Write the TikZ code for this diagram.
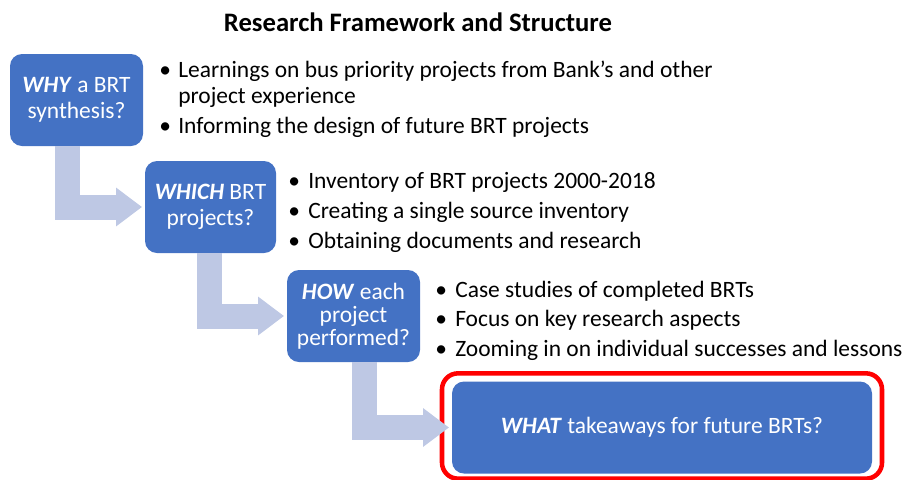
\documentclass[tikz,border=0pt]{standalone}
\usepackage{fontspec}
\setmainfont{Carlito}
\usetikzlibrary{arrows.meta}
\definecolor{boxblue}{RGB}{68,114,196}
\definecolor{arrblue}{RGB}{190,200,228}
\definecolor{frred}{RGB}{255,0,0}
\begin{document}
\begin{tikzpicture}[x=0.75pt,y=-0.75pt,
  qbox/.style={fill=boxblue, rounded corners=9pt, text=white, align=center,
    font=\fontsize{17.6}{19.5}\selectfont, inner sep=0pt, minimum height=69pt},
  bul/.style={anchor=base west, inner sep=0pt, font=\fontsize{17.6}{20}\selectfont},
  bigarrow/.style={draw=arrblue, line width=18.75pt,
    -{Triangle[length=19.5pt,width=27.75pt]}, line join=miter, shorten >=2pt}]
\useasboundingbox (0,0) rectangle (902,479);

\node[font=\bfseries\fontsize{20}{24}\selectfont, inner sep=0pt] (title) at (418,22) {Research Framework and Structure};

% question boxes
\node[qbox, minimum width=99.75pt] (why) at (76.5,100) {\textbf{\textit{WHY}} a BRT\\synthesis?};
\node[qbox, minimum width=98.25pt] (which) at (210.5,207) {\textbf{\textit{WHICH}} BRT\\projects?};
\node[qbox, minimum width=99.75pt, font=\fontsize{17.6}{17.25}\selectfont] (how) at (353.5,316) {\textbf{\textit{HOW}} each\\project\\performed?};
\node[qbox, minimum width=315pt] (what) at (662,427.5) {\textbf{\textit{WHAT}} takeaways for future BRTs?};
\node[draw=frred, line width=3.4pt, rounded corners=12pt, minimum width=330pt, minimum height=79pt, inner sep=0pt] (frame) at (662,426) {};

% arrows
\draw[bigarrow] ([xshift=-6.75pt]why.south) |- (which.west);
\draw[bigarrow] ([xshift=-0.75pt]which.south) |- (how.west);
\draw[bigarrow] ([xshift=7.9pt]how.south) |- (what.west);

% bullets group 1
\node[bul] (b1a) at (159,77) {•};
\node[bul] (t1a) at (178,77) {Learnings on bus priority projects from Bank’s and other};
\node[bul] (t1b) at (178,103) {project experience};
\node[bul] (b1c) at (159,133) {•};
\node[bul] (t1c) at (178,133) {Informing the design of future BRT projects};

% bullets group 2
\node[bul] (b2a) at (288,188) {•};
\node[bul] (t2a) at (308,188) {Inventory of BRT projects 2000-2018};
\node[bul] (b2b) at (288,218) {•};
\node[bul] (t2b) at (308,218) {Creating a single source inventory};
\node[bul] (b2c) at (288,248) {•};
\node[bul] (t2c) at (308,248) {Obtaining documents and research};

% bullets group 3
\node[bul] (b3a) at (435,297) {•};
\node[bul] (t3a) at (455,297) {Case studies of completed BRTs};
\node[bul] (b3b) at (435,326) {•};
\node[bul] (t3b) at (455,326) {Focus on key research aspects};
\node[bul] (b3c) at (435,356) {•};
\node[bul] (t3c) at (455,356) {Zooming in on individual successes and lessons};
\end{tikzpicture}
\end{document}
